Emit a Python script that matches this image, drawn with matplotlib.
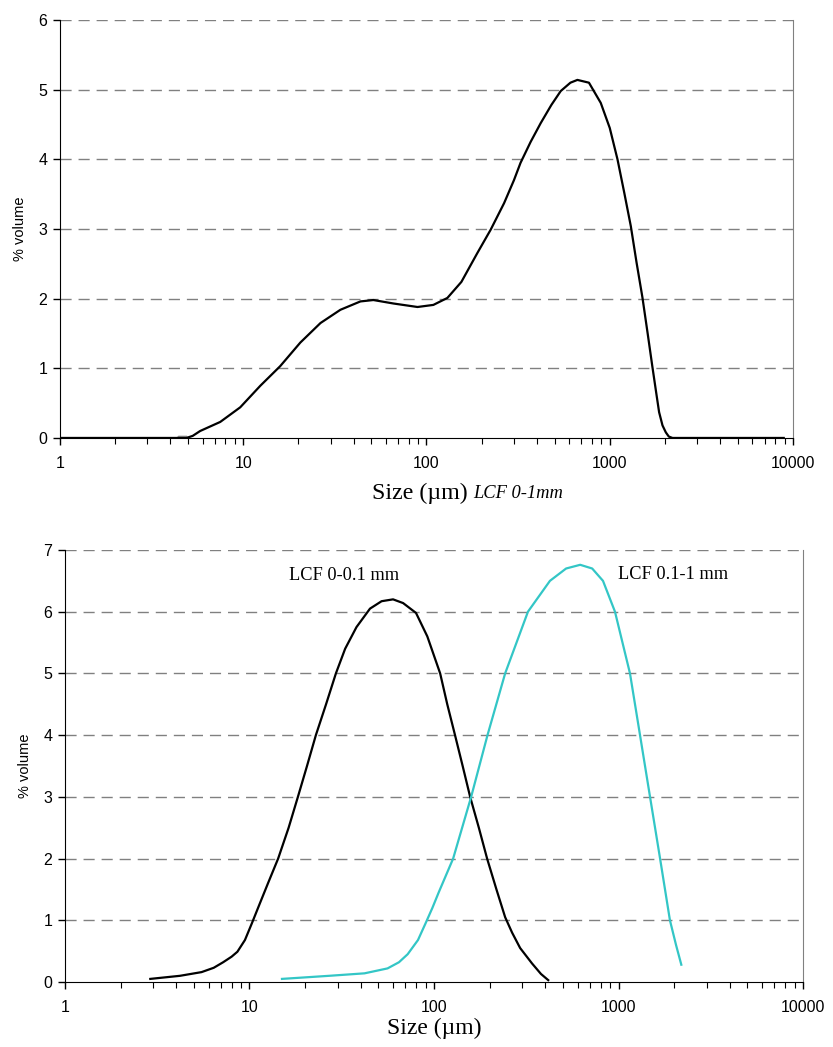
import numpy as np
import matplotlib.pyplot as plt
from matplotlib.ticker import LogLocator, NullFormatter, FixedLocator, FixedFormatter

# LCF 0-1mm distribution (top)
top_size = [1, 2, 3, 4, 4.9, 5.3, 5.82, 7.49, 9.63, 12.4, 15.9, 20.5, 26.4, 33.9,
            43.6, 51.3, 66.1, 89.3, 109, 130, 155, 189, 224, 265, 300, 326, 370,
            420, 480, 540, 610, 666, 770, 893, 1000, 1102, 1200, 1303, 1400, 1507,
            1610, 1709, 1790, 1859, 1940, 2023, 2100, 2200, 3000, 5000, 8900]
top_vol = [0, 0, 0, 0, 0, 0.03, 0.10, 0.23, 0.44, 0.75, 1.03, 1.37, 1.65, 1.84,
           1.96, 1.98, 1.93, 1.88, 1.91, 2.01, 2.24, 2.65, 2.99, 3.37, 3.70, 3.95,
           4.25, 4.52, 4.78, 4.98, 5.10, 5.14, 5.10, 4.81, 4.45, 4.0, 3.52, 3.04,
           2.52, 2.02, 1.50, 1.02, 0.66, 0.37, 0.18, 0.08, 0.02, 0, 0, 0, 0]
# small grey mark near 5 µm
patch_size = [4.25, 4.4, 4.9, 5.0]
patch_top = [0.0, 0.04, 0.04, 0.0]

# LCF 0-0.1 mm (bottom, black)
fine_size = [2.9, 4.2, 5.5, 6.4, 7.2, 8.0, 8.6, 9.45, 10.3, 11.3, 12.6, 14.3,
             16.3, 18.3, 20.5, 22.9, 26, 29.4, 33, 38, 45, 52, 60, 68, 79.9, 92,
             108, 118, 130, 143, 157, 175, 194, 218, 243, 265, 293, 340, 380, 416]
fine_vol = [0.05, 0.1, 0.16, 0.23, 0.32, 0.41, 0.49, 0.68, 0.95, 1.25, 1.6, 2.0,
            2.5, 3.0, 3.5, 4.0, 4.5, 5.0, 5.4, 5.75, 6.05, 6.17, 6.2, 6.14, 5.98,
            5.6, 5.0, 4.5, 4.0, 3.5, 3.0, 2.5, 2.0, 1.5, 1.05, 0.8, 0.55, 0.3,
            0.13, 0.03]

# LCF 0.1-1 mm (bottom, cyan)
coarse_size = [15, 27, 42, 56, 64.6, 72, 81.9, 90, 98, 106, 127, 159, 195, 243,
               323, 425, 520, 620, 720, 824, 957, 1154, 1308, 1482, 1680, 1900,
               2050, 2190]
coarse_vol = [0.05, 0.1, 0.14, 0.22, 0.32, 0.45, 0.68, 0.95, 1.2, 1.45, 2.0, 3.0,
              4.0, 5.0, 6.0, 6.5, 6.7, 6.76, 6.7, 6.5, 6.0, 5.0, 4.0, 3.0, 2.0,
              1.0, 0.6, 0.28]

x_ticks = [1, 10, 100, 1000, 10000]
x_labels = ['1', '10', '100', '1000', '10000']

sans = 'Liberation Sans'
serif = 'Liberation Serif'

fig = plt.figure(figsize=(8.33, 10.47), dpi=100)
ax1 = fig.add_axes([0.072, 0.5817, 0.880, 0.3992])
ax2 = fig.add_axes([0.078, 0.0621, 0.886, 0.4126])


def style_axes(ax, ymax):
    ax.set_xscale('log')
    ax.set_xlim(1, 10000)
    ax.set_ylim(0, ymax)
    ax.xaxis.set_major_locator(FixedLocator(x_ticks))
    ax.xaxis.set_major_formatter(FixedFormatter(x_labels))
    ax.xaxis.set_minor_locator(LogLocator(base=10, subs=np.arange(2, 10)))
    ax.xaxis.set_minor_formatter(NullFormatter())
    ax.set_yticks(range(0, ymax + 1))
    for y in range(1, ymax + 1):
        ax.axhline(y, color='#808080', lw=1, dashes=(8, 5), zorder=0)
    ax.tick_params(axis='x', which='major', direction='out', length=5, width=1,
                   pad=8, labelsize=11.5)
    ax.tick_params(axis='x', which='minor', direction='out', length=4, width=0.8)
    ax.tick_params(axis='y', direction='out', length=5, width=1, pad=4,
                   labelsize=11.5)
    for lab in ax.get_xticklabels() + ax.get_yticklabels():
        lab.set_fontfamily(sans)
    ax.spines['top'].set_visible(False)
    ax.spines['right'].set_color('#808080')
    ax.spines['left'].set_color('black')
    ax.spines['bottom'].set_color('black')
    ax.set_ylabel('% volume', fontsize=10.5, family=sans, labelpad=8)


style_axes(ax1, 6)
ax1.fill_between(patch_size, 0, patch_top, color='#909090', lw=0, zorder=2)
ax1.plot(top_size, top_vol, color='black', lw=1.6, zorder=3)

style_axes(ax2, 7)
ax2.plot(fine_size, fine_vol, color='black', lw=1.6, zorder=3)
ax2.plot(coarse_size, coarse_vol, color='#33c6c6', lw=1.6, zorder=3)
ax2.text(16.4, 6.58, 'LCF 0-0.1 mm', family=serif, fontsize=13.2, ha='left', va='center')
ax2.text(993, 6.61, 'LCF 0.1-1 mm', family=serif, fontsize=13.2, ha='left', va='center')

fig.text(468 / 833, 1 - 493 / 1047, 'Size (\u00b5m)', family=serif, fontsize=17.3,
         ha='right', va='center')
fig.text(473 / 833, 1 - 494 / 1047, 'LCF 0-1mm', family=serif, fontsize=13.3,
         style='italic', ha='left', va='center')
ax2.set_xlabel('Size (\u00b5m)', family=serif, fontsize=17, labelpad=2)

plt.savefig('out.png', dpi=100)
